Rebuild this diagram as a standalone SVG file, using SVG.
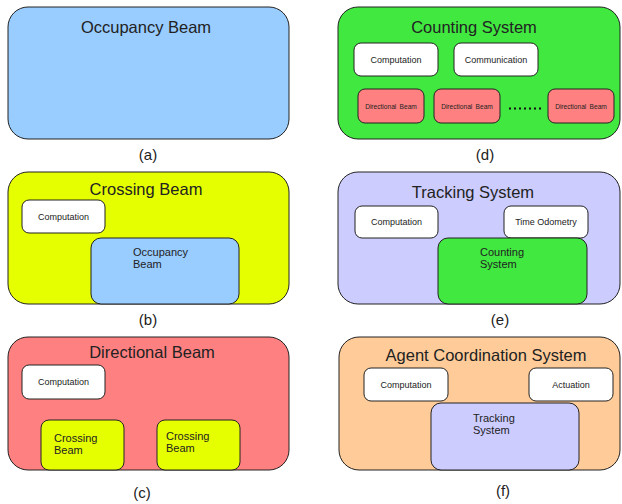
<svg xmlns="http://www.w3.org/2000/svg" width="622" height="504" viewBox="0 0 622 504">
  <style>
    text { font-family: "Liberation Sans", Arial, sans-serif; fill: #222; }
    .outer { stroke: #222; stroke-width: 1; }
    .box { stroke: #222; stroke-width: 1; }
    .title { font-size: 16.5px; text-anchor: middle; }
    .small { font-size: 9px; text-anchor: middle; }
    .tiny { font-size: 6.6px; text-anchor: middle; word-spacing: 1.5px; }
    .inner { font-size: 11px; }
    .cap { font-size: 15px; text-anchor: middle; }
    .white { fill: #ffffff; }
    .blue { fill: #99ccff; }
    .yellow { fill: #e6ff00; }
    .red { fill: #ff8080; }
    .green { fill: #40e840; }
    .lav { fill: #ccccff; }
    .orange { fill: #ffcc99; }
  </style>
  <rect width="622" height="504" fill="#ffffff"/>

  <!-- (a) Occupancy Beam -->
  <g id="occupancy-beam">
    <rect class="outer blue" x="8" y="7" width="281" height="132" rx="20" ry="20"/>
    <text class="title" x="146" y="33">Occupancy Beam</text>
    <text class="cap" x="148" y="160">(a)</text>
  </g>

  <!-- (b) Crossing Beam -->
  <g id="crossing-beam">
    <rect class="outer yellow" x="8" y="172" width="281" height="132" rx="20" ry="20"/>
    <text class="title" x="146" y="195">Crossing Beam</text>
    <g id="b-computation">
      <rect class="box white" x="22" y="200" width="83" height="33" rx="7" ry="7"/>
      <text class="small" x="63.5" y="220">Computation</text>
    </g>
    <g id="b-occupancy">
      <rect class="box blue" x="91" y="238" width="148" height="66" rx="10" ry="10"/>
      <text class="inner" x="133" y="256">Occupancy</text>
      <text class="inner" x="133" y="268">Beam</text>
    </g>
    <text class="cap" x="148" y="325">(b)</text>
  </g>

  <!-- (c) Directional Beam -->
  <g id="directional-beam">
    <rect class="outer red" x="8" y="337" width="281" height="133" rx="20" ry="20"/>
    <text class="title" x="152" y="358">Directional Beam</text>
    <g id="c-computation">
      <rect class="box white" x="22" y="365" width="83" height="34" rx="7" ry="7"/>
      <text class="small" x="63.5" y="385">Computation</text>
    </g>
    <g id="c-crossing-1">
      <rect class="box yellow" x="41" y="420" width="83" height="50" rx="8" ry="8"/>
      <text class="inner" x="54" y="442">Crossing</text>
      <text class="inner" x="54" y="454">Beam</text>
    </g>
    <g id="c-crossing-2">
      <rect class="box yellow" x="157" y="420" width="83" height="50" rx="8" ry="8"/>
      <text class="inner" x="166" y="440">Crossing</text>
      <text class="inner" x="166" y="452">Beam</text>
    </g>
    <text class="cap" x="142" y="498">(c)</text>
  </g>

  <!-- (d) Counting System -->
  <g id="counting-system">
    <rect class="outer green" x="338" y="7" width="282" height="132" rx="20" ry="20"/>
    <text class="title" x="474" y="33">Counting System</text>
    <g id="d-computation">
      <rect class="box white" x="354" y="43" width="84" height="33" rx="7" ry="7"/>
      <text class="small" x="396" y="63">Computation</text>
    </g>
    <g id="d-communication">
      <rect class="box white" x="454" y="43" width="84" height="33" rx="7" ry="7"/>
      <text class="small" x="496" y="63">Communication</text>
    </g>
    <g id="d-directional-1">
      <rect class="box red" x="358" y="89" width="66" height="34" rx="7" ry="7"/>
      <text class="tiny" x="391" y="108.5">Directional Beam</text>
    </g>
    <g id="d-directional-2">
      <rect class="box red" x="434" y="89" width="66" height="34" rx="7" ry="7"/>
      <text class="tiny" x="467" y="108.5">Directional Beam</text>
    </g>
    <line x1="509" y1="108.5" x2="541" y2="108.5" stroke="#111" stroke-width="2" stroke-dasharray="2 3"/>
    <g id="d-directional-3">
      <rect class="box red" x="548" y="89" width="66" height="34" rx="7" ry="7"/>
      <text class="tiny" x="581" y="108.5">Directional Beam</text>
    </g>
    <text class="cap" x="485" y="160">(d)</text>
  </g>

  <!-- (e) Tracking System -->
  <g id="tracking-system">
    <rect class="outer lav" x="338" y="172" width="282" height="132" rx="20" ry="20"/>
    <text class="title" x="473" y="198">Tracking System</text>
    <g id="e-computation">
      <rect class="box white" x="355" y="206" width="83" height="32" rx="7" ry="7"/>
      <text class="small" x="396.5" y="225">Computation</text>
    </g>
    <g id="e-time-odometry">
      <rect class="box white" x="504" y="206" width="84" height="32" rx="7" ry="7"/>
      <text class="small" x="546" y="225">Time Odometry</text>
    </g>
    <g id="e-counting">
      <rect class="box green" x="438" y="238" width="149" height="66" rx="10" ry="10"/>
      <text class="inner" x="480" y="256">Counting</text>
      <text class="inner" x="480" y="268">System</text>
    </g>
    <text class="cap" x="500" y="325">(e)</text>
  </g>

  <!-- (f) Agent Coordination System -->
  <g id="agent-coordination-system">
    <rect class="outer orange" x="339" y="337" width="281" height="133" rx="20" ry="20"/>
    <text class="title" x="486" y="361">Agent Coordination System</text>
    <g id="f-computation">
      <rect class="box white" x="364" y="368" width="84" height="33" rx="7" ry="7"/>
      <text class="small" x="406" y="388">Computation</text>
    </g>
    <g id="f-actuation">
      <rect class="box white" x="529" y="368" width="84" height="33" rx="7" ry="7"/>
      <text class="small" x="571" y="388">Actuation</text>
    </g>
    <g id="f-tracking">
      <rect class="box lav" x="431" y="403" width="148" height="67" rx="10" ry="10"/>
      <text class="inner" x="473" y="422">Tracking</text>
      <text class="inner" x="473" y="434">System</text>
    </g>
    <text class="cap" x="503" y="496">(f)</text>
  </g>
</svg>
